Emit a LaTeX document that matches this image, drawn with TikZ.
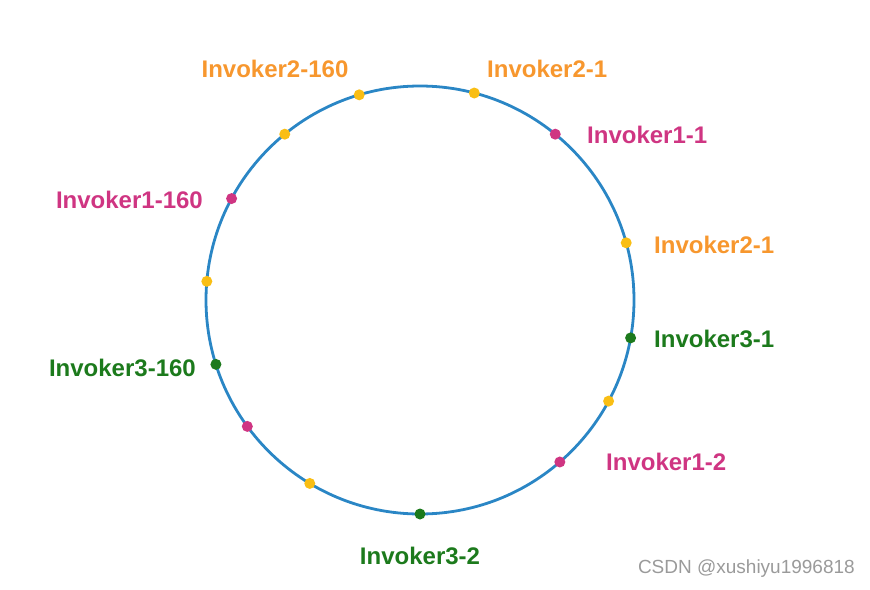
\documentclass[tikz,border=0pt]{standalone}
\usepackage{fontspec}
\setmainfont{Liberation Sans}
\usepackage{xcolor}
\usetikzlibrary{calc}
\definecolor{ring-blue}{HTML}{2A86C5}
\definecolor{inv-gold}{HTML}{F9BE14}
\definecolor{inv-orange}{HTML}{F7972E}
\definecolor{inv-pink}{HTML}{CF3582}
\definecolor{inv-green}{HTML}{1C7A1C}
\definecolor{mark-grey}{HTML}{9A9A9A}

\begin{document}
\begin{tikzpicture}[x=1pt, y=-1pt,
    every node/.style={font=\fontsize{24}{28}\selectfont\bfseries, inner sep=0pt},
    dot/.style={circle, minimum size=11pt}]
    \useasboundingbox (0,0) rectangle (870,589);
    \coordinate (c) at (420,300);
    \draw[line width=2.8pt, color=ring-blue] (c) circle[radius=214];
    % points on the ring
    \node[dot, fill=inv-gold] (p2a) at ($(c)+(-106.5:214)$) {};
    \node[dot, fill=inv-gold] (p2b) at ($(c)+(-75.3:214)$) {};
    \node[dot, fill=inv-pink] (p1a) at ($(c)+(-50.8:214)$) {};
    \node[dot, fill=inv-gold] (p2c) at ($(c)+(-15.5:214)$) {};
    \node[dot, fill=inv-green] (p3a) at ($(c)+(10.2:214)$) {};
    \node[dot, fill=inv-gold] (p2d) at ($(c)+(28.2:214)$) {};
    \node[dot, fill=inv-pink] (p1b) at ($(c)+(49.2:214)$) {};
    \node[dot, fill=inv-green] (p3b) at ($(c)+(90:214)$) {};
    \node[dot, fill=inv-gold] (p2e) at ($(c)+(121:214)$) {};
    \node[dot, fill=inv-pink] (p1c) at ($(c)+(143.8:214)$) {};
    \node[dot, fill=inv-green] (p3c) at ($(c)+(162.5:214)$) {};
    \node[dot, fill=inv-gold] (p2f) at ($(c)+(185:214)$) {};
    \node[dot, fill=inv-pink] (p1d) at ($(c)+(208.3:214)$) {};
    \node[dot, fill=inv-gold] (p2g) at ($(c)+(230.8:214)$) {};
    % labels
    \node[text=inv-orange] (l2a) at (275,69) {Invoker2-160};
    \node[text=inv-orange, anchor=west] (l2b) at (487,69) {Invoker2-1};
    \node[text=inv-pink, anchor=west] (l1a) at (587,135) {Invoker1-1};
    \node[text=inv-orange, anchor=west] (l2c) at (654,245) {Invoker2-1};
    \node[text=inv-green, anchor=west] (l3a) at (654,339) {Invoker3-1};
    \node[text=inv-pink, anchor=west] (l1b) at (606,462) {Invoker1-2};
    \node[text=inv-green] (l3b) at (420,556) {Invoker3-2};
    \node[text=inv-green, anchor=east] (l3c) at (196,368) {Invoker3-160};
    \node[text=inv-pink, anchor=east] (l1c) at (203,200) {Invoker1-160};
    \node[text=mark-grey, font=\fontsize{19}{22}\selectfont, anchor=east] (wm) at (855,569) {CSDN @xushiyu1996818};
  \end{tikzpicture}
\end{document}
